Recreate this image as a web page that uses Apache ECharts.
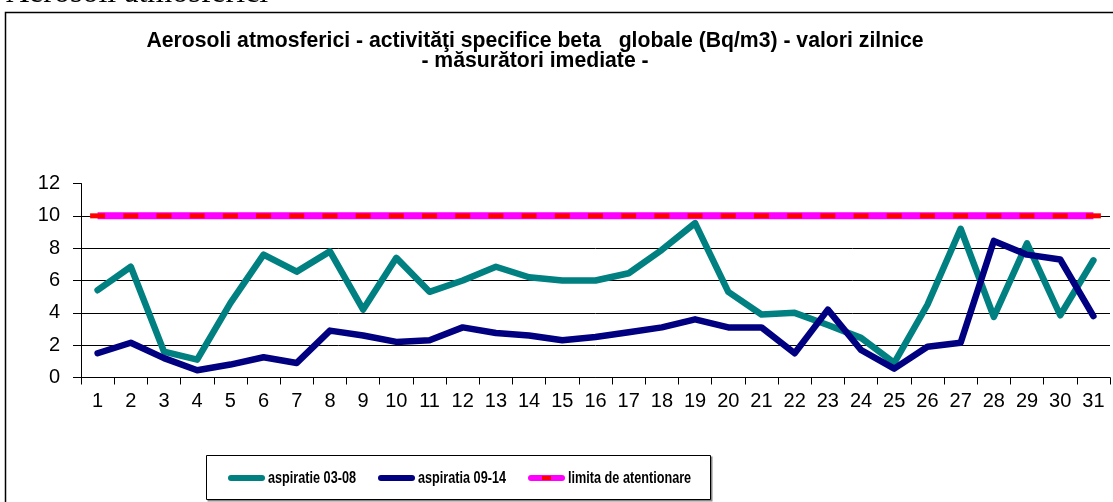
<!DOCTYPE html>
<html>
<head>
<meta charset="utf-8">
<script src="https://cdn.jsdelivr.net/npm/echarts@6/dist/echarts.min.js"></script>
<style>
  html, body { margin: 0; padding: 0; background: #fff; }
  #chart { width: 1113px; height: 502px; }
</style>
</head>
<body>
<div id="chart"></div>
<script>
const days = ['1','2','3','4','5','6','7','8','9','10','11','12','13','14','15','16',
  '17','18','19','20','21','22','23','24','25','26','27','28','29','30','31']
const asp0308 = [5.4, 6.85, 1.6, 1.1, 4.6, 7.6, 6.55, 7.8, 4.2, 7.4, 5.3, 6.0, 6.85, 6.2, 6.0, 6.0,
  6.45, 7.9, 9.55, 5.3, 3.9, 4.0, 3.25, 2.45, 0.9, 4.5, 9.2, 3.75, 8.3, 3.85, 7.25]
const asp0914 = [1.5, 2.15, 1.2, 0.45, 0.8, 1.25, 0.9, 2.9, 2.6, 2.2, 2.3, 3.1, 2.75, 2.6, 2.3, 2.5,
  2.8, 3.1, 3.6, 3.1, 3.1, 1.5, 4.2, 1.7, 0.55, 1.9, 2.15, 8.45, 7.6, 7.3, 3.8]
const limita = [10, 10, 10, 10, 10, 10, 10, 10, 10, 10, 10, 10, 10, 10, 10, 10,
  10, 10, 10, 10, 10, 10, 10, 10, 10, 10, 10, 10, 10, 10, 10]
const yTicks = [0, 2, 4, 6, 8, 10, 12]

const FONT = "'Liberation Sans', Arial, sans-serif"
const names = ['aspiratie 03-08', 'aspiratia 09-14', 'limita de atentionare']
const colors = ['#008080', '#000080', '#ff00ff']

const chart = echarts.init(document.getElementById('chart'), null, { renderer: 'canvas' })

// legend drawn by hand: the original uses a condensed bold face
const legendX = [228, 378, 528]
const legendItems = []
names.forEach((name, i) => {
  legendItems.push({
    type: 'rect', shape: { x: legendX[i], y: 475, width: 37, height: 6, r: 3 },
    style: { fill: colors[i] }, z: 10
  })
  legendItems.push({
    type: 'text', x: legendX[i] + 40, y: 478, scaleX: 0.745, z: 10,
    style: { text: name, font: "bold 17px " + FONT, fill: '#000', verticalAlign: 'middle' }
  })
})
legendItems.push({
  type: 'rect', shape: { x: legendX[2] + 14, y: 476, width: 9, height: 4 },
  style: { fill: '#ff0000' }, z: 11
})

chart.setOption({
  backgroundColor: '#fff',
  animation: false,
  title: {
    text: 'Aerosoli atmosferici - activităţi specifice beta   globale (Bq/m3) - valori zilnice\n- măsurători imediate -',
    left: 535, top: 31, padding: 0, textAlign: 'center',
    textStyle: { fontSize: 21.2, fontWeight: 'bold', color: '#000', fontFamily: FONT, lineHeight: 20 }
  },
  graphic: [
    { type: 'text', x: 6, y: -6,
      style: { text: 'Aerosoli atmosferici', font: "32px 'Liberation Serif', 'Times New Roman', serif",
        fill: '#000', verticalAlign: 'middle' } },
    { type: 'rect', shape: { x: 5.5, y: 12.5, width: 1115, height: 520 },
      style: { fill: 'none', stroke: '#000', lineWidth: 1.5 }, z: -1 },
    { type: 'rect', shape: { x: 207.5, y: 456.5, width: 505, height: 45 },
      style: { fill: '#888', stroke: null }, z: -1 },
    { type: 'rect', shape: { x: 206.5, y: 455.5, width: 504, height: 44 },
      style: { fill: '#fff', stroke: '#000', lineWidth: 1 }, z: 0 }
  ].concat(legendItems),
  grid: { left: 81, right: 3, top: 183.5, bottom: 124.5, containLabel: false },
  xAxis: {
    type: 'category', data: days, boundaryGap: true,
    axisLine: { lineStyle: { color: '#000', width: 1 } },
    axisTick: { show: true, length: 7, lineStyle: { color: '#000' } },
    axisLabel: { color: '#000', fontSize: 20, fontFamily: FONT, margin: 14, interval: 0 },
    splitLine: { show: false }
  },
  yAxis: {
    type: 'value', min: yTicks[0], max: yTicks[yTicks.length - 1], interval: 2,
    axisLine: { show: true, lineStyle: { color: '#000', width: 1 } },
    axisTick: { show: true, length: 8, lineStyle: { color: '#000' } },
    axisLabel: { color: '#000', fontSize: 20, fontFamily: FONT, margin: 21 },
    splitLine: { show: true, showMaxLine: false, lineStyle: { color: '#000', width: 1 } }
  },
  series: [
    {
      name: names[0], type: 'line', data: asp0308,
      showSymbol: false, symbol: 'none',
      lineStyle: { color: colors[0], width: 6.5, join: 'round', cap: 'round' },
      itemStyle: { color: colors[0] }, z: 3
    },
    {
      name: names[1], type: 'line', data: asp0914,
      showSymbol: false, symbol: 'none',
      lineStyle: { color: colors[1], width: 6.5, join: 'round', cap: 'round' },
      itemStyle: { color: colors[1] }, z: 4
    },
    {
      name: names[2], type: 'line', data: limita,
      symbol: 'rect', symbolSize: [15, 5], showSymbol: true,
      lineStyle: { color: colors[2], width: 7 },
      itemStyle: { color: '#ff0000' }, z: 2
    }
  ]
})
</script>
</body>
</html>
